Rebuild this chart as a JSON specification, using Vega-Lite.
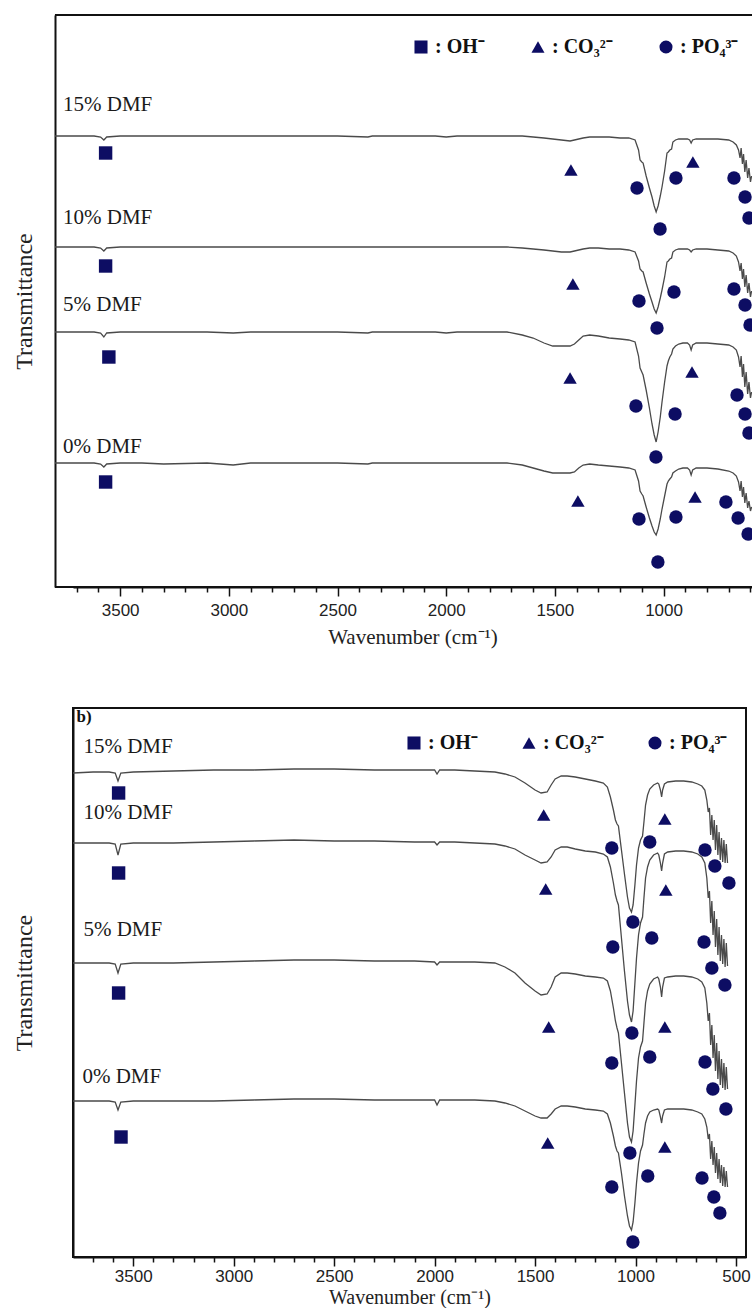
{
  "$schema": "https://vega.github.io/schema/vega-lite/v6.json",
  "background": "white",
  "padding": {"left": 11, "top": 14, "right": 0, "bottom": 0},
  "config": {"view": {"stroke": null}, "font": "Liberation Serif", "axis": {"grid": false}},
  "spacing": 60,
  "resolve": {"scale": {"x": "independent", "y": "independent", "shape": "independent"}, "legend": {"shape": "independent"}},
  "datasets": {
    "specA": [
      {"w":3800,"p15":136,"p10":247,"p5":332,"p0":463},
      {"w":3700,"p15":136,"p10":247,"p5":332,"p0":463},
      {"w":3620,"p15":136,"p10":247,"p5":332,"p0":463},
      {"w":3590,"p15":137,"p10":248,"p5":333,"p0":464},
      {"w":3575,"p15":140,"p10":251,"p5":337,"p0":467},
      {"w":3562,"p15":137,"p10":248,"p5":333,"p0":464},
      {"w":3500,"p15":136,"p10":247,"p5":332,"p0":463},
      {"w":3400,"p15":136,"p10":247,"p5":332,"p0":463},
      {"w":3300,"p15":136,"p10":247,"p5":332,"p0":464},
      {"w":3100,"p15":136,"p10":247,"p5":332,"p0":463},
      {"w":2980,"p15":136,"p10":247,"p5":333,"p0":465},
      {"w":2900,"p15":136,"p10":247,"p5":332,"p0":463},
      {"w":2700,"p15":136,"p10":247,"p5":332,"p0":463},
      {"w":2500,"p15":136,"p10":247,"p5":332,"p0":463},
      {"w":2360,"p15":137,"p10":247,"p5":333,"p0":464},
      {"w":2340,"p15":136,"p10":247,"p5":332,"p0":463},
      {"w":2200,"p15":136,"p10":247,"p5":332,"p0":463},
      {"w":2050,"p15":136,"p10":247,"p5":332,"p0":463},
      {"w":2000,"p15":137,"p10":247,"p5":333,"p0":463},
      {"w":1950,"p15":136,"p10":247,"p5":332,"p0":463},
      {"w":1800,"p15":136,"p10":247,"p5":332,"p0":463},
      {"w":1720,"p15":136,"p10":247,"p5":332,"p0":463},
      {"w":1650,"p15":136,"p10":248,"p5":335,"p0":465},
      {"w":1600,"p15":137,"p10":249,"p5":338,"p0":468},
      {"w":1550,"p15":138,"p10":250,"p5":343,"p0":471},
      {"w":1510,"p15":139,"p10":251,"p5":346,"p0":473},
      {"w":1470,"p15":140,"p10":252,"p5":346,"p0":473},
      {"w":1430,"p15":141,"p10":252,"p5":346,"p0":473},
      {"w":1410,"p15":140,"p10":251,"p5":344,"p0":472},
      {"w":1390,"p15":139,"p10":250,"p5":340,"p0":468},
      {"w":1370,"p15":138,"p10":249,"p5":336,"p0":465},
      {"w":1340,"p15":137,"p10":248,"p5":335,"p0":464},
      {"w":1300,"p15":137,"p10":248,"p5":336,"p0":465},
      {"w":1250,"p15":137,"p10":249,"p5":338,"p0":466},
      {"w":1200,"p15":138,"p10":249,"p5":339,"p0":467},
      {"w":1160,"p15":138,"p10":250,"p5":340,"p0":468},
      {"w":1131,"p15":140,"p10":252,"p5":342,"p0":470},
      {"w":1115,"p15":150,"p10":261,"p5":356,"p0":481},
      {"w":1108,"p15":160,"p10":269,"p5":368,"p0":491},
      {"w":1100,"p15":162,"p10":271,"p5":372,"p0":494},
      {"w":1094,"p15":163,"p10":272,"p5":375,"p0":496},
      {"w":1080,"p15":176,"p10":283,"p5":390,"p0":507},
      {"w":1065,"p15":188,"p10":294,"p5":408,"p0":518},
      {"w":1053,"p15":197,"p10":302,"p5":424,"p0":526},
      {"w":1043,"p15":206,"p10":309,"p5":435,"p0":532},
      {"w":1034,"p15":212,"p10":313,"p5":442,"p0":535},
      {"w":1025,"p15":206,"p10":307,"p5":432,"p0":529},
      {"w":1015,"p15":196,"p10":298,"p5":417,"p0":519},
      {"w":1007,"p15":187,"p10":290,"p5":402,"p0":509},
      {"w":995,"p15":171,"p10":277,"p5":382,"p0":496},
      {"w":984,"p15":153,"p10":262,"p5":366,"p0":484},
      {"w":978,"p15":152,"p10":261,"p5":361,"p0":481},
      {"w":971,"p15":150,"p10":259,"p5":357,"p0":479},
      {"w":963,"p15":149,"p10":258,"p5":354,"p0":477},
      {"w":957,"p15":142,"p10":252,"p5":349,"p0":473},
      {"w":945,"p15":140,"p10":250,"p5":346,"p0":471},
      {"w":930,"p15":139,"p10":249,"p5":344,"p0":469},
      {"w":911,"p15":139,"p10":249,"p5":343,"p0":468},
      {"w":890,"p15":139,"p10":249,"p5":343,"p0":468},
      {"w":880,"p15":140,"p10":250,"p5":345,"p0":470},
      {"w":873,"p15":143,"p10":252,"p5":350,"p0":475},
      {"w":866,"p15":140,"p10":250,"p5":345,"p0":470},
      {"w":850,"p15":139,"p10":249,"p5":343,"p0":468},
      {"w":800,"p15":139,"p10":249,"p5":343,"p0":468},
      {"w":750,"p15":139,"p10":250,"p5":344,"p0":469},
      {"w":700,"p15":140,"p10":251,"p5":345,"p0":471},
      {"w":680,"p15":142,"p10":253,"p5":347,"p0":473},
      {"w":665,"p15":145,"p10":256,"p5":350,"p0":476},
      {"w":655,"p15":150,"p10":262,"p5":357,"p0":482},
      {"w":648,"p15":158,"p10":271,"p5":367,"p0":491},
      {"w":643,"p15":148,"p10":263,"p5":356,"p0":481},
      {"w":637,"p15":164,"p10":279,"p5":377,"p0":497},
      {"w":632,"p15":154,"p10":269,"p5":364,"p0":487},
      {"w":626,"p15":172,"p10":287,"p5":387,"p0":503},
      {"w":620,"p15":160,"p10":275,"p5":372,"p0":493},
      {"w":613,"p15":178,"p10":293,"p5":394,"p0":508},
      {"w":607,"p15":168,"p10":283,"p5":382,"p0":501},
      {"w":600,"p15":182,"p10":297,"p5":398,"p0":511},
      {"w":595,"p15":176,"p10":291,"p5":392,"p0":507}
    ],
    "specB": [
      {"w":3800,"p15":773,"p10":843,"p5":963,"p0":1101},
      {"w":3700,"p15":772,"p10":843,"p5":963,"p0":1101},
      {"w":3620,"p15":772,"p10":843,"p5":963,"p0":1101},
      {"w":3590,"p15":773,"p10":844,"p5":964,"p0":1102},
      {"w":3576,"p15":781,"p10":855,"p5":973,"p0":1110},
      {"w":3562,"p15":773,"p10":844,"p5":964,"p0":1102},
      {"w":3500,"p15":772,"p10":843,"p5":963,"p0":1101},
      {"w":3300,"p15":771,"p10":843,"p5":963,"p0":1101},
      {"w":3100,"p15":770,"p10":842,"p5":962,"p0":1101},
      {"w":2900,"p15":770,"p10":841,"p5":961,"p0":1100},
      {"w":2700,"p15":769,"p10":840,"p5":960,"p0":1099},
      {"w":2500,"p15":769,"p10":841,"p5":960,"p0":1099},
      {"w":2300,"p15":770,"p10":841,"p5":961,"p0":1100},
      {"w":2100,"p15":770,"p10":842,"p5":961,"p0":1100},
      {"w":2000,"p15":770,"p10":842,"p5":962,"p0":1100},
      {"w":1988,"p15":774,"p10":845,"p5":965,"p0":1105},
      {"w":1975,"p15":770,"p10":842,"p5":962,"p0":1100},
      {"w":1900,"p15":770,"p10":842,"p5":962,"p0":1100},
      {"w":1800,"p15":771,"p10":843,"p5":962,"p0":1100},
      {"w":1700,"p15":772,"p10":844,"p5":963,"p0":1101},
      {"w":1650,"p15":774,"p10":846,"p5":967,"p0":1103},
      {"w":1600,"p15":777,"p10":849,"p5":973,"p0":1106},
      {"w":1550,"p15":783,"p10":855,"p5":983,"p0":1111},
      {"w":1500,"p15":790,"p10":860,"p5":991,"p0":1116},
      {"w":1470,"p15":793,"p10":863,"p5":995,"p0":1118},
      {"w":1440,"p15":792,"p10":862,"p5":994,"p0":1118},
      {"w":1420,"p15":785,"p10":857,"p5":987,"p0":1114},
      {"w":1400,"p15":779,"p10":850,"p5":977,"p0":1109},
      {"w":1370,"p15":776,"p10":847,"p5":973,"p0":1106},
      {"w":1340,"p15":776,"p10":847,"p5":973,"p0":1106},
      {"w":1300,"p15":777,"p10":849,"p5":974,"p0":1107},
      {"w":1250,"p15":779,"p10":851,"p5":976,"p0":1109},
      {"w":1200,"p15":781,"p10":852,"p5":977,"p0":1110},
      {"w":1160,"p15":783,"p10":854,"p5":978,"p0":1111},
      {"w":1140,"p15":787,"p10":857,"p5":981,"p0":1114},
      {"w":1125,"p15":797,"p10":867,"p5":991,"p0":1123},
      {"w":1110,"p15":810,"p10":883,"p5":1008,"p0":1136},
      {"w":1100,"p15":820,"p10":895,"p5":1021,"p0":1146},
      {"w":1092,"p15":824,"p10":901,"p5":1028,"p0":1151},
      {"w":1085,"p15":826,"p10":905,"p5":1033,"p0":1153},
      {"w":1070,"p15":850,"p10":938,"p5":1063,"p0":1173},
      {"w":1055,"p15":874,"p10":971,"p5":1093,"p0":1196},
      {"w":1040,"p15":897,"p10":1001,"p5":1123,"p0":1216},
      {"w":1030,"p15":908,"p10":1015,"p5":1137,"p0":1226},
      {"w":1020,"p15":912,"p10":1022,"p5":1142,"p0":1230},
      {"w":1012,"p15":905,"p10":1011,"p5":1131,"p0":1222},
      {"w":1003,"p15":885,"p10":983,"p5":1105,"p0":1203},
      {"w":995,"p15":865,"p10":958,"p5":1081,"p0":1183},
      {"w":985,"p15":848,"p10":935,"p5":1058,"p0":1163},
      {"w":975,"p15":840,"p10":923,"p5":1047,"p0":1151},
      {"w":965,"p15":836,"p10":917,"p5":1041,"p0":1145},
      {"w":958,"p15":822,"p10":898,"p5":1023,"p0":1134},
      {"w":950,"p15":805,"p10":878,"p5":1003,"p0":1123},
      {"w":940,"p15":795,"p10":867,"p5":991,"p0":1116},
      {"w":929,"p15":789,"p10":860,"p5":984,"p0":1112},
      {"w":910,"p15":785,"p10":855,"p5":979,"p0":1110},
      {"w":890,"p15":783,"p10":853,"p5":977,"p0":1109},
      {"w":884,"p15":784,"p10":855,"p5":979,"p0":1110},
      {"w":876,"p15":790,"p10":863,"p5":987,"p0":1117},
      {"w":870,"p15":797,"p10":871,"p5":997,"p0":1123},
      {"w":865,"p15":790,"p10":863,"p5":987,"p0":1116},
      {"w":856,"p15":784,"p10":854,"p5":978,"p0":1110},
      {"w":840,"p15":782,"p10":852,"p5":977,"p0":1109},
      {"w":800,"p15":781,"p10":851,"p5":976,"p0":1109},
      {"w":760,"p15":781,"p10":851,"p5":976,"p0":1109},
      {"w":720,"p15":782,"p10":852,"p5":977,"p0":1110},
      {"w":690,"p15":784,"p10":854,"p5":979,"p0":1112},
      {"w":670,"p15":786,"p10":857,"p5":982,"p0":1114},
      {"w":655,"p15":790,"p10":863,"p5":988,"p0":1119},
      {"w":645,"p15":800,"p10":878,"p5":1003,"p0":1127},
      {"w":638,"p15":812,"p10":898,"p5":1021,"p0":1139},
      {"w":632,"p15":808,"p10":891,"p5":1013,"p0":1134},
      {"w":626,"p15":835,"p10":923,"p5":1045,"p0":1159},
      {"w":620,"p15":815,"p10":901,"p5":1025,"p0":1141},
      {"w":614,"p15":840,"p10":935,"p5":1058,"p0":1165},
      {"w":608,"p15":820,"p10":911,"p5":1035,"p0":1147},
      {"w":602,"p15":850,"p10":947,"p5":1071,"p0":1173},
      {"w":596,"p15":825,"p10":919,"p5":1043,"p0":1153},
      {"w":590,"p15":855,"p10":955,"p5":1079,"p0":1179},
      {"w":584,"p15":832,"p10":927,"p5":1051,"p0":1159},
      {"w":578,"p15":860,"p10":961,"p5":1085,"p0":1183},
      {"w":572,"p15":838,"p10":935,"p5":1059,"p0":1165},
      {"w":566,"p15":862,"p10":964,"p5":1088,"p0":1186},
      {"w":560,"p15":840,"p10":939,"p5":1063,"p0":1167},
      {"w":554,"p15":863,"p10":967,"p5":1090,"p0":1187},
      {"w":548,"p15":844,"p10":943,"p5":1067,"p0":1171},
      {"w":542,"p15":863,"p10":966,"p5":1089,"p0":1187}
    ],
    "markA": [
      {"ion":"OH⁻","w":3567,"t":153},{"ion":"OH⁻","w":3567,"t":266},{"ion":"OH⁻","w":3552,"t":357},{"ion":"OH⁻","w":3567,"t":482},
      {"ion":"CO₃²⁻","w":1426,"t":170},{"ion":"CO₃²⁻","w":865,"t":162},{"ion":"CO₃²⁻","w":1417,"t":284},
      {"ion":"CO₃²⁻","w":1430,"t":378},{"ion":"CO₃²⁻","w":869,"t":372},{"ion":"CO₃²⁻","w":1394,"t":501},{"ion":"CO₃²⁻","w":855,"t":497},
      {"ion":"PO₄³⁻","w":1122,"t":188},{"ion":"PO₄³⁻","w":1016,"t":229},{"ion":"PO₄³⁻","w":943,"t":178},{"ion":"PO₄³⁻","w":676,"t":178},{"ion":"PO₄³⁻","w":625,"t":197},{"ion":"PO₄³⁻","w":607,"t":218},
      {"ion":"PO₄³⁻","w":1113,"t":301},{"ion":"PO₄³⁻","w":1030,"t":328},{"ion":"PO₄³⁻","w":952,"t":292},{"ion":"PO₄³⁻","w":676,"t":289},{"ion":"PO₄³⁻","w":625,"t":305},{"ion":"PO₄³⁻","w":602,"t":325},
      {"ion":"PO₄³⁻","w":1127,"t":406},{"ion":"PO₄³⁻","w":1035,"t":457},{"ion":"PO₄³⁻","w":947,"t":414},{"ion":"PO₄³⁻","w":662,"t":395},{"ion":"PO₄³⁻","w":625,"t":414},{"ion":"PO₄³⁻","w":607,"t":433},
      {"ion":"PO₄³⁻","w":1113,"t":519},{"ion":"PO₄³⁻","w":1026,"t":562},{"ion":"PO₄³⁻","w":943,"t":517},{"ion":"PO₄³⁻","w":713,"t":502},{"ion":"PO₄³⁻","w":657,"t":518},{"ion":"PO₄³⁻","w":611,"t":534}
    ],
    "markB": [
      {"ion":"OH⁻","w":3573,"t":793},{"ion":"OH⁻","w":3573,"t":873},{"ion":"OH⁻","w":3573,"t":993},{"ion":"OH⁻","w":3561,"t":1137},
      {"ion":"CO₃²⁻","w":1457,"t":815},{"ion":"CO₃²⁻","w":854,"t":819},{"ion":"CO₃²⁻","w":1447,"t":889},{"ion":"CO₃²⁻","w":849,"t":890},
      {"ion":"CO₃²⁻","w":1432,"t":1027},{"ion":"CO₃²⁻","w":854,"t":1027},{"ion":"CO₃²⁻","w":1437,"t":1143},{"ion":"CO₃²⁻","w":854,"t":1147},
      {"ion":"PO₄³⁻","w":1118,"t":848},{"ion":"PO₄³⁻","w":929,"t":842},{"ion":"PO₄³⁻","w":654,"t":850},{"ion":"PO₄³⁻","w":605,"t":866},{"ion":"PO₄³⁻","w":535,"t":883},{"ion":"PO₄³⁻","w":1013,"t":922},
      {"ion":"PO₄³⁻","w":1113,"t":947},{"ion":"PO₄³⁻","w":919,"t":938},{"ion":"PO₄³⁻","w":659,"t":942},{"ion":"PO₄³⁻","w":620,"t":968},{"ion":"PO₄³⁻","w":555,"t":985},{"ion":"PO₄³⁻","w":1018,"t":1033},
      {"ion":"PO₄³⁻","w":1118,"t":1063},{"ion":"PO₄³⁻","w":929,"t":1057},{"ion":"PO₄³⁻","w":654,"t":1062},{"ion":"PO₄³⁻","w":615,"t":1089},{"ion":"PO₄³⁻","w":550,"t":1109},{"ion":"PO₄³⁻","w":1028,"t":1153},
      {"ion":"PO₄³⁻","w":1118,"t":1187},{"ion":"PO₄³⁻","w":939,"t":1176},{"ion":"PO₄³⁻","w":669,"t":1178},{"ion":"PO₄³⁻","w":610,"t":1197},{"ion":"PO₄³⁻","w":580,"t":1213},{"ion":"PO₄³⁻","w":1013,"t":1242}
    ],
    "labA": [
      {"label":"15% DMF","w":3763,"t":105},{"label":"10% DMF","w":3763,"t":218},{"label":"5% DMF","w":3763,"t":305},{"label":"0% DMF","w":3763,"t":447}
    ],
    "labB": [
      {"label":"15% DMF","w":3748,"t":747},{"label":"10% DMF","w":3748,"t":813},{"label":"5% DMF","w":3748,"t":930},{"label":"0% DMF","w":3753,"t":1077}
    ],
    "panB": [{"label":"b)","w":3782,"t":709}],
    "frameA": [{"wa":3800,"wb":593,"t":15},{"wa":3800,"wb":593,"t":587}]
  },
  "vconcat": [
    {
      "width": 679,
      "height": 572,
      "encoding": {
        "x": {"field": "w", "type": "quantitative", "scale": {"domain": [3717, 593], "nice": false, "zero": false},
          "axis": {"values": [3700,3600,3500,3400,3300,3200,3100,3000,2900,2800,2700,2600,2500,2400,2300,2200,2100,2000,1900,1800,1700,1600,1500,1400,1300,1200,1100,1000,900,800,700,600],
            "format": "d", "labelExpr": "datum.value % 500 === 0 ? datum.label : ''",
            "tickSize": {"condition": {"test": "datum.value % 500 === 0", "value": 9}, "value": 5},
            "tickColor": "#111", "tickWidth": 1.5, "domainColor": "#111", "domainWidth": 2,
            "labelFont": "Liberation Sans", "labelFontSize": 17, "labelColor": "#222", "labelPadding": 6,
            "labelOverlap": false, "labelFlush": false,
            "title": "Wavenumber (cm⁻¹)", "titleFont": "Liberation Serif", "titleFontSize": 21, "titleFontWeight": "normal", "titleColor": "#222", "titlePadding": 8}},
        "y": {"field": "t", "type": "quantitative", "scale": {"domain": [15, 587], "reverse": true, "nice": false, "zero": false},
          "axis": {"title": "Transmittance", "labels": false, "ticks": false, "domain": true, "domainWidth": 2, "domainColor": "#111", "offset": 18,
            "titleFont": "Liberation Serif", "titleFontSize": 24, "titleFontWeight": "normal", "titleColor": "#222", "titlePadding": 19, "minExtent": 0}}
      },
      "layer": [
        {
          "data": {"name": "frameA"},
          "mark": {"type": "rule", "color": "#111", "strokeWidth": 2, "clip": false},
          "encoding": {"x": {"field": "wa", "type": "quantitative"}, "x2": {"field": "wb"}}
        },
        {
          "data": {"name": "specA"},
          "transform": [{"fold": ["p15", "p10", "p5", "p0"], "as": ["s", "t"]}],
          "mark": {"type": "line", "color": "#4a4a4a", "strokeWidth": 1.3, "clip": false},
          "encoding": {"detail": {"field": "s"}}
        },
        {
          "data": {"name": "markA"},
          "mark": {"type": "point", "filled": true, "opacity": 1, "color": "#0d0d63", "size": 180},
          "encoding": {
            "shape": {"field": "ion", "type": "nominal",
              "scale": {"domain": ["OH⁻", "CO₃²⁻", "PO₄³⁻"], "range": ["square", "triangle-up", "circle"]},
              "legend": {"orient": "none", "legendX": 338, "legendY": 22, "direction": "horizontal", "title": null, "padding": 0,
                "labelFont": "Liberation Serif", "labelFontSize": 20, "labelFontWeight": "bold", "labelColor": "#111",
                "symbolSize": 170, "symbolFillColor": "#0d0d63", "symbolStrokeColor": "#0d0d63", "symbolStrokeWidth": 0,
                "columnPadding": 43, "labelOffset": 4, "labelLimit": 0, "labelExpr": "': ' + datum.label"}}
          }
        },
        {
          "data": {"name": "labA"},
          "mark": {"type": "text", "align": "left", "baseline": "middle", "font": "Liberation Serif", "fontSize": 21, "color": "#1a1a1a"},
          "encoding": {"text": {"field": "label"}}
        }
      ]
    },
    {
      "width": 673,
      "height": 549,
      "view": {"stroke": "#111", "strokeWidth": 2},
      "encoding": {
        "x": {"field": "w", "type": "quantitative", "scale": {"domain": [3800, 450], "nice": false, "zero": false},
          "axis": {"values": [3700,3600,3500,3400,3300,3200,3100,3000,2900,2800,2700,2600,2500,2400,2300,2200,2100,2000,1900,1800,1700,1600,1500,1400,1300,1200,1100,1000,900,800,700,600,500],
            "format": "d", "labelExpr": "datum.value % 500 === 0 ? datum.label : ''",
            "tickSize": {"condition": {"test": "datum.value % 500 === 0", "value": 9}, "value": 5},
            "tickColor": "#111", "tickWidth": 1.5, "domainColor": "#111", "domainWidth": 2,
            "labelFont": "Liberation Sans", "labelFontSize": 17, "labelColor": "#222", "labelPadding": 2,
            "labelOverlap": false, "labelFlush": false,
            "title": "Wavenumber (cm⁻¹)", "titleFont": "Liberation Serif", "titleFontSize": 20, "titleFontWeight": "normal", "titleColor": "#222", "titlePadding": 3}},
        "y": {"field": "t", "type": "quantitative", "scale": {"domain": [708, 1257], "reverse": true, "nice": false, "zero": false},
          "axis": {"title": "Transmittance", "labels": false, "ticks": false, "domain": true, "domainWidth": 2, "domainColor": "#111",
            "titleFont": "Liberation Serif", "titleFontSize": 24, "titleFontWeight": "normal", "titleColor": "#222", "titlePadding": 37, "minExtent": 0}}
      },
      "layer": [
        {
          "data": {"name": "specB"},
          "transform": [{"fold": ["p15", "p10", "p5", "p0"], "as": ["s", "t"]}],
          "mark": {"type": "line", "color": "#4a4a4a", "strokeWidth": 1.3, "clip": true},
          "encoding": {"detail": {"field": "s"}}
        },
        {
          "data": {"name": "markB"},
          "mark": {"type": "point", "filled": true, "opacity": 1, "color": "#0d0d63", "size": 180, "clip": true},
          "encoding": {
            "shape": {"field": "ion", "type": "nominal",
              "scale": {"domain": ["OH⁻", "CO₃²⁻", "PO₄³⁻"], "range": ["square", "triangle-up", "circle"]},
              "legend": {"orient": "none", "legendX": 331, "legendY": 25, "direction": "horizontal", "title": null, "padding": 0,
                "labelFont": "Liberation Serif", "labelFontSize": 20, "labelFontWeight": "bold", "labelColor": "#111",
                "symbolSize": 170, "symbolFillColor": "#0d0d63", "symbolStrokeColor": "#0d0d63", "symbolStrokeWidth": 0,
                "columnPadding": 41, "labelOffset": 4, "labelLimit": 0, "labelExpr": "': ' + datum.label"}}
          }
        },
        {
          "data": {"name": "labB"},
          "mark": {"type": "text", "align": "left", "baseline": "middle", "font": "Liberation Serif", "fontSize": 21, "color": "#1a1a1a"},
          "encoding": {"text": {"field": "label"}}
        },
        {
          "data": {"name": "panB"},
          "mark": {"type": "text", "align": "left", "baseline": "top", "font": "Liberation Serif", "fontSize": 17, "fontWeight": "bold", "color": "#111"},
          "encoding": {"text": {"field": "label"}}
        }
      ]
    }
  ]
}
